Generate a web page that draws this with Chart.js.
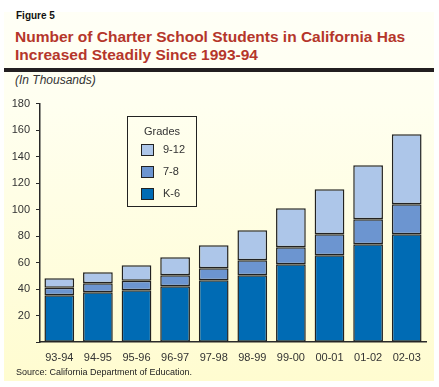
<!DOCTYPE html>
<html>
<head>
<meta charset="utf-8">
<script src="https://cdn.jsdelivr.net/npm/chart.js@4.4.1/dist/chart.umd.min.js"></script>
<style>
  html, body { margin: 0; padding: 0; background: #fff; }
  body { width: 439px; height: 387px; position: relative; overflow: hidden; font-family: "Liberation Sans", Arial, sans-serif; }
  #panel { position: absolute; left: 4px; top: 12px; width: 430px; height: 369px;
    background: linear-gradient(to bottom, #fffff6 0%, #fffff0 25%, #fffcd0 100%); }
  #rule { position: absolute; left: 4px; top: 68px; width: 430px; height: 4px; background: #231f20; }
  .txt { position: absolute; white-space: nowrap; }
  #fig { left: 16px; top: 10px; font-size: 10px; font-weight: bold; color: #111; }
  #title { left: 15px; top: 28px; font-size: 15.5px; line-height: 18px; font-weight: bold; color: #b5362b; }
  #units { left: 15px; top: 73px; font-size: 12px; font-style: italic; color: #333; }
  #source { left: 16px; top: 367px; font-size: 9px; color: #222; }
  #chart { position: absolute; left: 0; top: 91px; }
  #legend { position: absolute; left: 127px; top: 116px; width: 68px; height: 89px; border: 1px solid #222; font-size: 11px; color: #333; }
  #legend .head { position: absolute; left: 0; width: 68px; top: 8px; text-align: center; }
  #legend .row { position: absolute; left: 13px; width: 50px; height: 14px; }
  #legend .sw { position: absolute; left: 0; top: 1px; width: 11px; height: 10px; border: 1px solid #222; }
  #legend .lab { position: absolute; left: 22px; top: 0; white-space: nowrap; }
</style>
</head>
<body>
<div id="panel"></div>
<div id="rule"></div>
<div class="txt" id="fig">Figure 5</div>
<div class="txt" id="title">Number of Charter School Students in California Has<br>Increased Steadily Since 1993-94</div>
<div class="txt" id="units">(In Thousands)</div>
<canvas id="chart" width="439" height="279"></canvas>
<div id="legend"><div class="head">Grades</div></div>
<div class="txt" id="source">Source: California Department of Education.</div>
<script>
// Datos (miles de alumnos)
const years = ['93-94', '94-95', '95-96', '96-97', '97-98', '98-99', '99-00', '00-01', '01-02', '02-03'];
const gradesK6 = [35.4, 37.7, 39.2, 42.2, 46.7, 50.5, 58.8, 65.6, 73.9, 81.4];
const grades78 = [5.7, 6.7, 7.2, 8.3, 9.1, 11.3, 12.8, 15.8, 18.9, 22.7];
const grades912 = [7.1, 8.4, 11.6, 13.6, 17.3, 22.7, 29.5, 34.0, 40.7, 52.8];
const yTicks = [20, 40, 60, 80, 100, 120, 140, 160, 180];

const axisColor = '#2a2a2a';
const tickFont = { family: '"Liberation Sans", Arial, sans-serif', size: 11 };

const makeSet = (label, data, color) => ({
  label: label,
  data: data,
  backgroundColor: color,
  borderColor: '#222',
  borderWidth: 1.5,
  borderSkipped: false,
  categoryPercentage: 1,
  barPercentage: 0.77
});

const config = {
  type: 'bar',
  data: {
    labels: years,
    datasets: [
      makeSet('K-6', gradesK6, '#006bb4'),
      makeSet('7-8', grades78, '#6c95d0'),
      makeSet('9-12', grades912, '#adc6e9')
    ]
  },
  options: {
    responsive: false,
    animation: false,
    layout: { padding: { top: 7.5, right: 13, left: 0, bottom: 0 } },
    plugins: {
      legend: { display: false },
      tooltip: { enabled: false }
    },
    scales: {
      x: {
        stacked: true,
        grid: { display: true, drawOnChartArea: false, drawTicks: false },
        border: { display: true, color: axisColor, width: 1.5 },
        ticks: { color: '#333', font: tickFont, padding: 9, maxRotation: 0, autoSkip: false },
        afterFit: (scale) => { scale.height = 27.8; }
      },
      y: {
        stacked: true,
        min: 0,
        max: 180,
        afterBuildTicks: (scale) => { scale.ticks = [0].concat(yTicks).map(v => ({ value: v })); },
        grid: { display: true, drawOnChartArea: false, tickLength: 4, color: axisColor, lineWidth: 1 },
        border: { display: true, color: axisColor, width: 1.5 },
        ticks: {
          color: '#333',
          font: tickFont,
          padding: 6,
          callback: (value) => value === 0 ? '' : value
        },
        afterFit: (scale) => { scale.width = 40; }
      }
    }
  }
};

const chart = new Chart(document.getElementById('chart'), config);

// Leyenda en html, de arriba (9-12) hacia abajo (K-6)
const legend = document.getElementById('legend');
const rowTops = [26, 48, 70];
chart.data.datasets.slice().reverse().forEach((ds, i) => {
  const row = document.createElement('div');
  row.className = 'row';
  row.style.top = rowTops[i] + 'px';
  row.innerHTML = '<div class="sw" style="background:' + ds.backgroundColor + '"></div><div class="lab">' + ds.label + '</div>';
  legend.appendChild(row);
});
</script>
</body>
</html>
